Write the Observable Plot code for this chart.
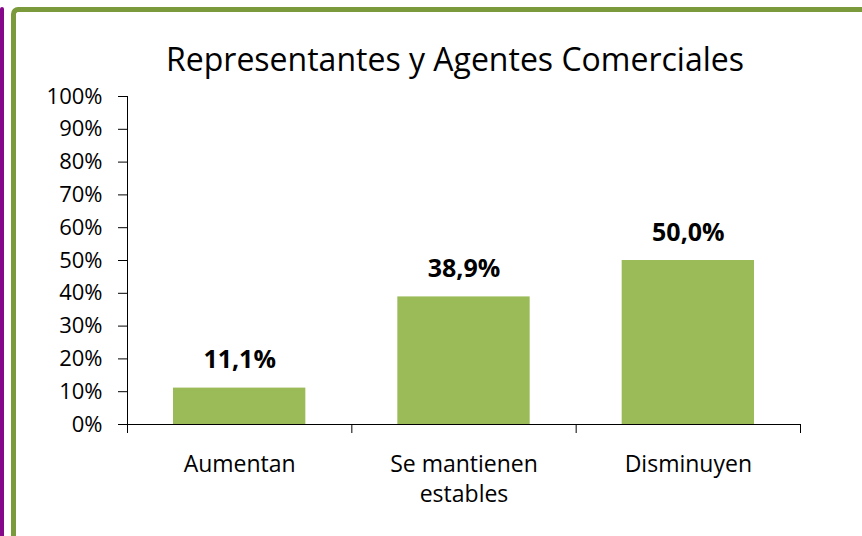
<!DOCTYPE html>
<html><head><meta charset="utf-8">
<script src="https://cdn.jsdelivr.net/npm/d3@7"></script>
<script src="https://cdn.jsdelivr.net/npm/@observablehq/plot@0.6"></script>
<style>
body{margin:0;background:#fff;}
#wrap{position:relative;width:862px;height:536px;overflow:hidden;font-family:"Open Sans",sans-serif;}
#purple{position:absolute;left:0;top:7px;width:4px;height:560px;background:#86088a;border-radius:3px 3px 0 0;}
#frame{position:absolute;left:11px;top:7px;width:900px;height:600px;border-left:5px solid #7a9a3c;border-top:5px solid #7a9a3c;border-radius:7px 0 0 0;}
#title{position:absolute;left:48px;right:0;top:43px;text-align:center;font-size:32px;line-height:32px;color:#000;white-space:nowrap;}
#chart{position:absolute;left:0;top:0;}
</style></head>
<body>
<div id="wrap">
  <div id="purple"></div>
  <div id="frame"></div>
  <div id="title">Representantes y Agentes Comerciales</div>
  <div id="chart"></div>
</div>
<script>
const categories = ["Aumentan", "Se mantienen\nestables", "Disminuyen"];
const values = [0.111, 0.389, 0.5];
const valueLabels = ["11,1%", "38,9%", "50,0%"];
const yTicks = [0, 0.1, 0.2, 0.3, 0.4, 0.5, 0.6, 0.7, 0.8, 0.9, 1];
const yTickLabels = ["0%", "10%", "20%", "30%", "40%", "50%", "60%", "70%", "80%", "90%", "100%"];
const boundaries = [0, 1, 2, 3];

const data = categories.map((c, i) => ({i, category: c, value: values[i], label: valueLabels[i]}));

const chart = Plot.plot({
  width: 862, height: 536,
  marginLeft: 127, marginRight: 62, marginTop: 96, marginBottom: 112,
  style: {fontFamily: "'Open Sans', sans-serif", fontSize: "22px", color: "#000", background: "transparent", overflow: "visible"},
  x: {domain: [0, 3], axis: null},
  y: {domain: [0, 1], axis: null},
  marks: [
    Plot.rectY(data, {x1: "i", x2: d => d.i + 1, y: "value", fill: "#9bbb59", insetLeft: 46, insetRight: 46}),
    Plot.ruleY([0], {stroke: "#000", strokeWidth: 1}),
    Plot.ruleX([0], {stroke: "#000", strokeWidth: 1}),
    Plot.axisY({ticks: yTicks, tickFormat: d => yTickLabels[yTicks.indexOf(d)], tickSize: 9, tickPadding: 16, fontSize: 22, stroke: "#000", strokeOpacity: 1, fill: "#000", label: null}),
    Plot.axisX({ticks: boundaries, tickFormat: () => "", tickSize: 9, stroke: "#000", strokeOpacity: 1, label: null}),
    Plot.text(data, {x: d => d.i + 0.5, y: "value", text: "label", dy: -20, lineAnchor: "bottom", fontWeight: "bold", fontSize: 25, fill: "#000"}),
    Plot.text(data, {x: d => d.i + 0.5, y: 0, text: "category", dy: 26, lineAnchor: "top", lineHeight: 1.32, fontSize: 23, fill: "#000"})
  ]
});
document.getElementById("chart").appendChild(chart);
</script>
</body></html>
